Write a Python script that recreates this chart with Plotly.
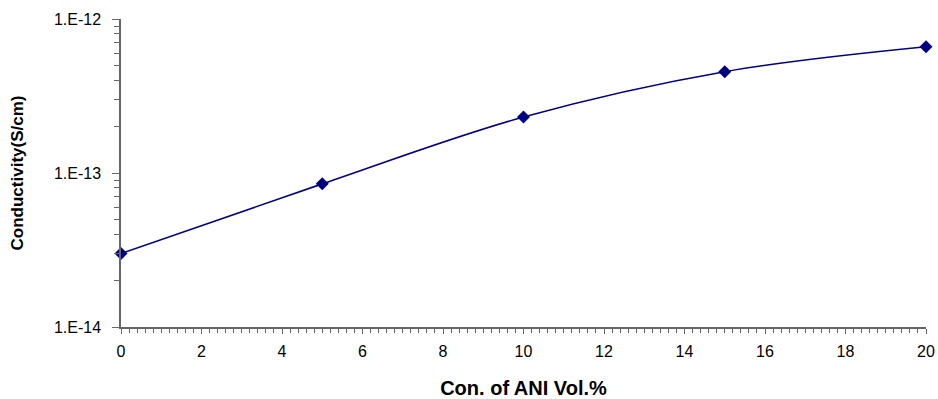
import plotly.graph_objects as go

ani_vol = [0, 5, 10, 15, 20]
conductivity = [3.0e-14, 8.5e-14, 2.31e-13, 4.55e-13, 6.6e-13]
y_tickvals = [1e-14, 1e-13, 1e-12]
y_ticktext = ["1.E-14", "1.E-13", "1.E-12"]

navy = "#000080"
axis_col = "#666666"
font = "Liberation Sans, Arial, sans-serif"

fig = go.Figure()
fig.add_trace(go.Scatter(
    x=ani_vol, y=conductivity, mode="lines+markers",
    line=dict(color=navy, width=1.6, shape="spline", smoothing=1),
    marker=dict(symbol="diamond", size=10, color=navy),
    showlegend=False, cliponaxis=False,
))

fig.update_layout(
    width=938, height=399,
    margin=dict(l=121, r=12, t=19, b=72, autoexpand=False),
    paper_bgcolor="white", plot_bgcolor="white",
    font=dict(family=font, size=16, color="black"),
    xaxis=dict(
        range=[0, 20], dtick=2, tick0=0, automargin=False,
        showline=True, linecolor=axis_col, linewidth=1.5,
        ticks="outside", ticklen=5, tickcolor=axis_col, tickwidth=1.3,
        ticklabelstandoff=4,
        showgrid=False, zeroline=False,
        tickfont=dict(size=16),
        minor=dict(dtick=0.2, ticks="outside", ticklen=4,
                   tickwidth=1, tickcolor=axis_col),
        title=dict(text="<b>Con. of ANI Vol.%</b>", font=dict(size=20), standoff=22),
    ),
    yaxis=dict(
        type="log", range=[-14, -12], automargin=False,
        tickmode="array", tickvals=y_tickvals, ticktext=y_ticktext,
        showline=True, linecolor=axis_col, linewidth=1.5,
        ticks="outside", ticklen=7, tickcolor=axis_col, tickwidth=1.3,
        ticklabelstandoff=8,
        showgrid=False, zeroline=False,
        tickfont=dict(size=16),
        minor=dict(dtick="D1", ticks="outside", ticklen=5, tickwidth=1.2,
                   tickcolor=axis_col),
        title=dict(text="<b>Conductivity(S/cm)</b>", font=dict(size=17), standoff=26),
    ),
)

fig.write_html("out.html")
